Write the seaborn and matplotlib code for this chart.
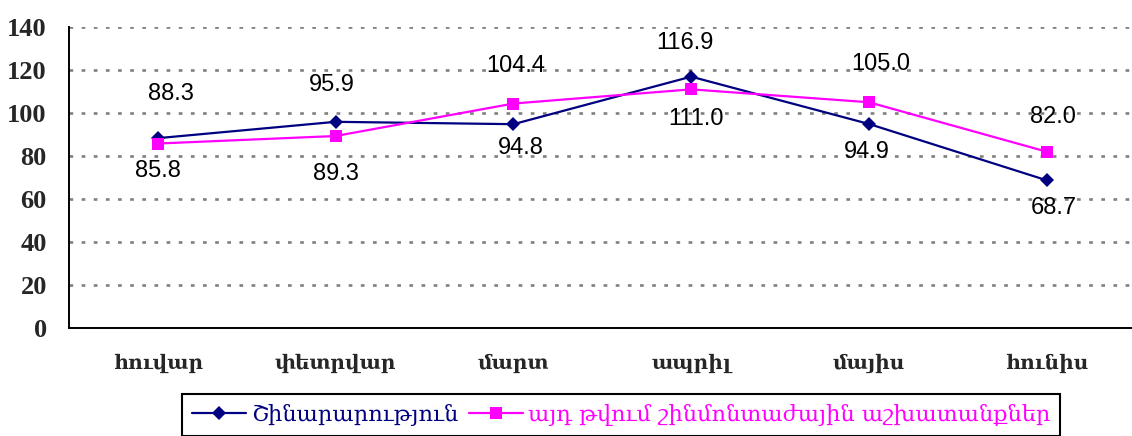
import matplotlib
matplotlib.use("Agg")
import matplotlib.pyplot as plt
import seaborn as sns
import pandas as pd
from matplotlib.lines import Line2D

# ---- data ----
months = ["հուվար", "փետրվար", "մարտ", "ապրիլ", "մայիս", "հունիս"]
construction = [88.3, 95.9, 94.8, 116.9, 94.9, 68.7]
installation = [85.8, 89.3, 104.4, 111.0, 105.0, 82.0]
series_names = ["Շինարարություն", "այդ թվում շինմոնտաժային աշխատանքներ"]
yticks = [0, 20, 40, 60, 80, 100, 120, 140]

# label offsets in pixels (dx, dy; dy positive = down)
off_construction = [(13, -44), (-4, -37), (7, 24), (-6, -34), (-2, 28), (7, 28)]
off_installation = [(0, 27), (0, 38), (2, -38), (5, 30), (12, -38), (6, -35)]

colors = ["#000080", "#FF00FF"]

sns.set_style("white")
plt.rcParams["font.family"] = ["DejaVu Serif"]

df = pd.DataFrame({
    "month": months * 2,
    "value": construction + installation,
    "series": [series_names[0]] * 6 + [series_names[1]] * 6,
})

fig = plt.figure(figsize=(11.32, 4.36), dpi=100)
ax = fig.add_axes([69 / 1132, 108 / 436, 1066.6 / 1132, 301 / 436])

sns.lineplot(data=df, x="month", y="value", hue="series", style="series",
             markers={series_names[0]: "D", series_names[1]: "s"},
             dashes=False, palette=colors, sort=False, ax=ax,
             linewidth=1.6, markeredgewidth=0, legend=False)
lines = ax.get_lines()
lines[0].set_markersize(7)
lines[1].set_markersize(8)

ax.set_xlim(-0.5, 5.5)
ax.set_ylim(0, 140)
ax.set_yticks(yticks)
ax.set_yticklabels([str(t) for t in yticks], fontfamily="Liberation Serif",
                   fontweight="bold", fontsize=19)
ax.set_xticks(range(len(months)))
ax.set_xticklabels(months, fontfamily="DejaVu Serif", fontweight="bold", fontsize=14.5)
ax.set_xticks([i - 0.5 for i in range(len(months) + 1)], minor=True)
ax.tick_params(axis="x", which="major", length=0, pad=18)
ax.tick_params(axis="x", which="minor", length=6, width=1, color="black", direction="out")
ax.tick_params(axis="y", which="major", length=6, width=1, color="black", direction="out", pad=10)
ax.set_xlabel("")
ax.set_ylabel("")

for s in ["top", "right"]:
    ax.spines[s].set_visible(False)
for s in ["left", "bottom"]:
    ax.spines[s].set_color("black")
    ax.spines[s].set_linewidth(1.4)

ax.yaxis.grid(True, color="#808080", linewidth=1.9, linestyle=(0, (1.4, 3.2)))
ax.set_axisbelow(True)
for gl in ax.get_ygridlines():
    gl.set_dash_capstyle("butt")

for vals, offs in [(construction, off_construction), (installation, off_installation)]:
    for i, (v, (dx, dy)) in enumerate(zip(vals, offs)):
        ax.annotate(f"{v:.1f}", (i, v), xytext=(dx * 0.72, -dy * 0.72),
                    textcoords="offset points", ha="center", va="center",
                    fontfamily="Liberation Sans", fontsize=17, color="black")

handles = [Line2D([], [], color=colors[0], marker="D", markersize=7, linewidth=1.6, markeredgewidth=0),
           Line2D([], [], color=colors[1], marker="s", markersize=8, linewidth=1.6, markeredgewidth=0)]
leg = fig.legend(handles, series_names, loc="upper left",
                 bbox_to_anchor=(182 / 1132, 1 - 394 / 436), ncol=2,
                 frameon=True, fancybox=False, framealpha=1, edgecolor="black",
                 prop={"family": "DejaVu Serif", "size": 16.2},
                 handlelength=2.4, handletextpad=0.23, columnspacing=0.45,
                 borderpad=0.45, borderaxespad=0)
leg.get_frame().set_linewidth(1.5)
for t, c in zip(leg.get_texts(), colors):
    t.set_color(c)

fig.savefig("out.png", dpi=100)
